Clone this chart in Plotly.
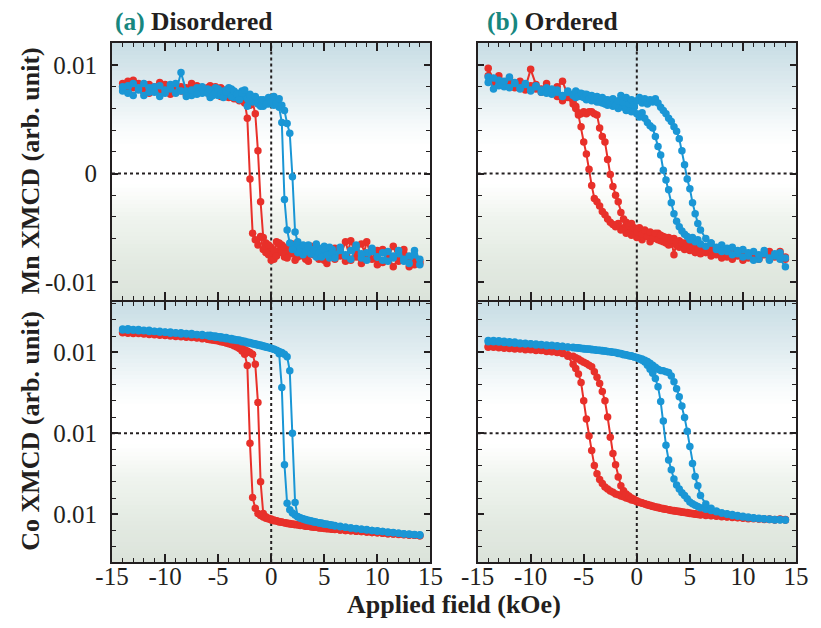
import plotly.graph_objects as go

# ---------------- data ----------------
field = [-14, -13.5, -13, -12.5, -12, -11.5, -11, -10.5, -10, -9.5, -9, -8.5, -8, -7.5, -7, -6.5,
         -6, -5.75, -5.5, -5.25, -5, -4.75, -4.5, -4.25, -4, -3.75, -3.5, -3.25, -3, -2.75, -2.5, -2.25,
         -2, -1.75, -1.5, -1.25, -1, -0.75, -0.5, -0.25, 0, 0.25, 0.5, 0.75, 1, 1.25, 1.5, 1.75,
         2, 2.25, 2.5, 2.75, 3, 3.25, 3.5, 3.75, 4, 4.25, 4.5, 4.75, 5, 5.25, 5.5, 5.75, 6,
         6.5, 7, 7.5, 8, 8.5, 9, 9.5, 10, 10.5, 11, 11.5, 12, 12.5, 13, 13.5, 14]

x_tick_vals = [-15, -10, -5, 0, 5, 10, 15]
x_tick_text = ["-15", "-10", "-5", "0", "5", "10", "15"]
mn_tick_vals = [-0.01, 0, 0.01]
mn_tick_text = ["-0.01", "0", "0.01"]
co_tick_vals = [0.008, 0.010, 0.012]
co_tick_text = ["0.01", "0.01", "0.01"]

# (a) Disordered, Mn
mn_dis_red_dn = [0.0083, 0.0078, 0.0086, 0.0080, 0.0075, 0.0082, 0.0077, 0.0084, 0.0079, 0.0073,
                 0.0081, 0.0076, 0.0079, 0.0083, 0.0074, 0.0078, 0.0076, 0.0081, 0.0074, 0.0077,
                 0.0073, 0.0079, 0.0075, 0.0071, 0.0076, 0.0072, 0.0074, 0.0069, 0.0072, 0.0068,
                 0.0066, 0.0051, -0.0005, -0.0055, -0.0061, -0.0066, -0.0058, -0.0070, -0.0064, -0.0075,
                 -0.0068, -0.0079, -0.0063, -0.0072, -0.0066, -0.0077, -0.0070, -0.0074, -0.0065, -0.0080,
                 -0.0071, -0.0067, -0.0076, -0.0070, -0.0081, -0.0073, -0.0068, -0.0075, -0.0079, -0.0070,
                 -0.0074, -0.0083, -0.0072, -0.0077, -0.0069, -0.0076, -0.0063, -0.0080, -0.0071, -0.0065,
                 -0.0078, -0.0072, -0.0084, -0.0070, -0.0077, -0.0067, -0.0081, -0.0074, -0.0086, -0.0079,
                 -0.0083]
mn_dis_red_up = [0.0080, 0.0085, 0.0079, 0.0083, 0.0078, 0.0074, 0.0080, 0.0076, 0.0082, 0.0078,
                 0.0075, 0.0080, 0.0073, 0.0078, 0.0081, 0.0075, 0.0079, 0.0072, 0.0076, 0.0080,
                 0.0074, 0.0071, 0.0077, 0.0073, 0.0070, 0.0075, 0.0069, 0.0072, 0.0067, 0.0070,
                 0.0065, 0.0068, 0.0063, 0.0066, 0.0055, 0.0021, -0.0026, -0.0059, -0.0073, -0.0066,
                 -0.0080, -0.0071, -0.0076, -0.0064, -0.0073, -0.0068, -0.0078, -0.0069, -0.0074, -0.0066,
                 -0.0077, -0.0072, -0.0068, -0.0079, -0.0074, -0.0067, -0.0075, -0.0071, -0.0078, -0.0073,
                 -0.0080, -0.0069, -0.0076, -0.0072, -0.0079, -0.0072, -0.0081, -0.0062, -0.0077, -0.0083,
                 -0.0063, -0.0079, -0.0071, -0.0082, -0.0075, -0.0086, -0.0078, -0.0070, -0.0080, -0.0084,
                 -0.0081]
mn_dis_blue_dn = [0.0076, 0.0081, 0.0072, 0.0079, 0.0083, 0.0075, 0.0080, 0.0071, 0.0077, 0.0082,
                  0.0074, 0.0093, 0.0076, 0.0072, 0.0079, 0.0074, 0.0078, 0.0070, 0.0075, 0.0079,
                  0.0072, 0.0076, 0.0071, 0.0077, 0.0073, 0.0078, 0.0070, 0.0074, 0.0069, 0.0076,
                  0.0071, 0.0062, 0.0073, 0.0066, 0.0070, 0.0064, 0.0068, 0.0062, 0.0067, 0.0064,
                  0.0069, 0.0063, 0.0066, 0.0061, 0.0047, -0.0024, -0.0052, -0.0064, -0.0070, -0.0066,
                  -0.0073, -0.0068, -0.0075, -0.0070, -0.0066, -0.0074, -0.0071, -0.0077, -0.0069, -0.0074,
                  -0.0067, -0.0072, -0.0078, -0.0070, -0.0075, -0.0068, -0.0076, -0.0071, -0.0066, -0.0078,
                  -0.0073, -0.0069, -0.0077, -0.0080, -0.0072, -0.0078, -0.0074, -0.0081, -0.0076, -0.0071,
                  -0.0079]
mn_dis_blue_up = [0.0080, 0.0074, 0.0083, 0.0077, 0.0072, 0.0079, 0.0075, 0.0081, 0.0074, 0.0078,
                  0.0083, 0.0076, 0.0071, 0.0077, 0.0073, 0.0080, 0.0074, 0.0077, 0.0072, 0.0075,
                  0.0078, 0.0073, 0.0070, 0.0075, 0.0079, 0.0071, 0.0076, 0.0073, 0.0068, 0.0074,
                  0.0077, 0.0069, 0.0072, 0.0067, 0.0071, 0.0065, 0.0062, 0.0068, 0.0064, 0.0070,
                  0.0066, 0.0071, 0.0065, 0.0069, 0.0063, 0.0058, 0.0046, 0.0037, -0.0003, -0.0054,
                  -0.0063, -0.0069, -0.0066, -0.0072, -0.0068, -0.0074, -0.0070, -0.0065, -0.0073, -0.0077,
                  -0.0070, -0.0075, -0.0068, -0.0073, -0.0078, -0.0071, -0.0075, -0.0079, -0.0068, -0.0074,
                  -0.0080, -0.0072, -0.0077, -0.0073, -0.0081, -0.0076, -0.0071, -0.0079, -0.0083, -0.0075,
                  -0.0084]

# (b) Ordered, Mn
mn_ord_red_dn = [0.0097, 0.0086, 0.0090, 0.0083, 0.0088, 0.0081, 0.0085, 0.0079, 0.0096, 0.0082,
                 0.0078, 0.0083, 0.0076, 0.0080, 0.0085, 0.0072, 0.0067, 0.0062, 0.0054, 0.0043,
                 0.0029, 0.0018, 0.0004, -0.0011, -0.0023, -0.0026, -0.0030, -0.0035, -0.0038, -0.0042,
                 -0.0045, -0.0047, -0.0049, -0.0046, -0.0052, -0.0050, -0.0055, -0.0051, -0.0057, -0.0053,
                 -0.0059, -0.0055, -0.0061, -0.0056, -0.0058, -0.0063, -0.0057, -0.0060, -0.0055, -0.0062,
                 -0.0058, -0.0064, -0.0059, -0.0065, -0.0060, -0.0066, -0.0062, -0.0067, -0.0064, -0.0069,
                 -0.0065, -0.0070, -0.0067, -0.0072, -0.0068, -0.0073, -0.0070, -0.0075, -0.0071, -0.0077,
                 -0.0073, -0.0076, -0.0072, -0.0078, -0.0074, -0.0079, -0.0075, -0.0072, -0.0077, -0.0074,
                 -0.0079]
mn_ord_red_up = [0.0090, 0.0084, 0.0087, 0.0081, 0.0085, 0.0079, 0.0083, 0.0077, 0.0081, 0.0078,
                 0.0075, 0.0079, 0.0074, 0.0071, 0.0067, 0.0070, 0.0064, 0.0060, 0.0056, 0.0055,
                 0.0057, 0.0055, 0.0057, 0.0057, 0.0055, 0.0054, 0.0042, 0.0034, 0.0029, 0.0013,
                 -0.0001, -0.0012, -0.0020, -0.0026, -0.0036, -0.0042, -0.0045, -0.0048, -0.0046, -0.0050,
                 -0.0054, -0.0050, -0.0056, -0.0052, -0.0058, -0.0054, -0.0060, -0.0055, -0.0061, -0.0057,
                 -0.0063, -0.0059, -0.0066, -0.0061, -0.0075, -0.0063, -0.0068, -0.0064, -0.0070, -0.0066,
                 -0.0071, -0.0068, -0.0073, -0.0069, -0.0074, -0.0071, -0.0076, -0.0072, -0.0078, -0.0074,
                 -0.0079, -0.0075, -0.0080, -0.0076, -0.0073, -0.0078, -0.0074, -0.0079, -0.0076, -0.0072,
                 -0.0077]
mn_ord_blue_dn = [0.0089, 0.0078, 0.0086, 0.0080, 0.0089, 0.0084, 0.0079, 0.0083, 0.0077, 0.0081,
                  0.0075, 0.0079, 0.0073, 0.0077, 0.0072, 0.0076, 0.0073, 0.0070, 0.0074, 0.0071,
                  0.0073, 0.0068, 0.0072, 0.0067, 0.0070, 0.0066, 0.0069, 0.0065, 0.0068, 0.0063,
                  0.0067, 0.0062, 0.0066, 0.0060, 0.0065, 0.0061, 0.0058, 0.0063, 0.0057, 0.0061,
                  0.0055, 0.0052, 0.0056, 0.0051, 0.0047, 0.0044, 0.0042, 0.0034, 0.0025, 0.0017,
                  0.0003, -0.0006, -0.0015, -0.0027, -0.0037, -0.0044, -0.0049, -0.0053, -0.0056, -0.0058,
                  -0.0061, -0.0059, -0.0063, -0.0061, -0.0065, -0.0067, -0.0064, -0.0070, -0.0066, -0.0072,
                  -0.0068, -0.0074, -0.0070, -0.0076, -0.0072, -0.0079, -0.0074, -0.0080, -0.0076, -0.0073,
                  -0.0078]
mn_ord_blue_up = [0.0084, 0.0088, 0.0081, 0.0085, 0.0079, 0.0083, 0.0078, 0.0082, 0.0076, 0.0080,
                  0.0077, 0.0074, 0.0078, 0.0075, 0.0071, 0.0075, 0.0072, 0.0076, 0.0071, 0.0074,
                  0.0070, 0.0073, 0.0069, 0.0072, 0.0068, 0.0071, 0.0066, 0.0070, 0.0064, 0.0068,
                  0.0065, 0.0069, 0.0063, 0.0067, 0.0072, 0.0066, 0.0070, 0.0064, 0.0068, 0.0063,
                  0.0067, 0.0070, 0.0065, 0.0069, 0.0064, 0.0068, 0.0066, 0.0069, 0.0065, 0.0061,
                  0.0058, 0.0055, 0.0051, 0.0048, 0.0043, 0.0039, 0.0032, 0.0021, 0.0008, -0.0005,
                  -0.0014, -0.0027, -0.0037, -0.0046, -0.0052, -0.0060, -0.0064, -0.0068, -0.0072, -0.0069,
                  -0.0075, -0.0071, -0.0077, -0.0073, -0.0080, -0.0075, -0.0071, -0.0078, -0.0074, -0.0079,
                  -0.0086]

# (a) Disordered, Co
co_dis_red_dn = [0.01248, 0.01251, 0.01246, 0.01249, 0.01245, 0.01247, 0.01243, 0.01245, 0.01241, 0.01243,
                 0.01239, 0.01241, 0.01237, 0.01238, 0.01235, 0.01236, 0.01232, 0.01233, 0.01230, 0.01231,
                 0.01228, 0.01227, 0.01225, 0.01224, 0.01221, 0.01219, 0.01216, 0.01213, 0.01209, 0.01203,
                 0.01195, 0.01167, 0.00975, 0.00841, 0.00815, 0.00802, 0.00797, 0.00793, 0.00790, 0.00788,
                 0.00786, 0.00784, 0.00783, 0.00781, 0.00780, 0.00779, 0.00777, 0.00776, 0.00775, 0.00774,
                 0.00774, 0.00772, 0.00772, 0.00770, 0.00770, 0.00769, 0.00768, 0.00768, 0.00766, 0.00766,
                 0.00765, 0.00764, 0.00764, 0.00763, 0.00762, 0.00761, 0.00760, 0.00759, 0.00758, 0.00757,
                 0.00756, 0.00755, 0.00754, 0.00753, 0.00752, 0.00751, 0.00750, 0.00749, 0.00748, 0.00748,
                 0.00747]
co_dis_red_up = [0.01250, 0.01247, 0.01249, 0.01246, 0.01247, 0.01244, 0.01245, 0.01242, 0.01243, 0.01240,
                 0.01241, 0.01238, 0.01239, 0.01236, 0.01236, 0.01233, 0.01233, 0.01231, 0.01231, 0.01229,
                 0.01228, 0.01226, 0.01225, 0.01223, 0.01222, 0.01220, 0.01218, 0.01216, 0.01213, 0.01210,
                 0.01206, 0.01203, 0.01199, 0.01195, 0.01170, 0.01076, 0.00880, 0.00802, 0.00794, 0.00790,
                 0.00788, 0.00786, 0.00784, 0.00782, 0.00781, 0.00779, 0.00778, 0.00777, 0.00776, 0.00775,
                 0.00774, 0.00773, 0.00772, 0.00771, 0.00770, 0.00769, 0.00769, 0.00768, 0.00767, 0.00766,
                 0.00766, 0.00765, 0.00764, 0.00763, 0.00763, 0.00761, 0.00760, 0.00759, 0.00758, 0.00757,
                 0.00756, 0.00755, 0.00754, 0.00753, 0.00752, 0.00751, 0.00751, 0.00750, 0.00749, 0.00748,
                 0.00747]
co_dis_blue_dn = [0.01255, 0.01258, 0.01254, 0.01256, 0.01253, 0.01254, 0.01251, 0.01252, 0.01249, 0.01250,
                  0.01247, 0.01248, 0.01245, 0.01246, 0.01243, 0.01244, 0.01241, 0.01242, 0.01240, 0.01240,
                  0.01238, 0.01238, 0.01236, 0.01236, 0.01234, 0.01234, 0.01232, 0.01231, 0.01230, 0.01228,
                  0.01227, 0.01225, 0.01224, 0.01222, 0.01221, 0.01219, 0.01218, 0.01216, 0.01214, 0.01212,
                  0.01210, 0.01207, 0.01204, 0.01196, 0.01113, 0.00922, 0.00827, 0.00811, 0.00803, 0.00798,
                  0.00794, 0.00791, 0.00789, 0.00787, 0.00785, 0.00783, 0.00782, 0.00780, 0.00779, 0.00778,
                  0.00776, 0.00775, 0.00774, 0.00773, 0.00772, 0.00770, 0.00768, 0.00766, 0.00765, 0.00763,
                  0.00762, 0.00760, 0.00759, 0.00757, 0.00756, 0.00755, 0.00753, 0.00752, 0.00751, 0.00750,
                  0.00749]
co_dis_blue_up = [0.01257, 0.01254, 0.01256, 0.01253, 0.01254, 0.01251, 0.01252, 0.01249, 0.01250, 0.01247,
                  0.01248, 0.01245, 0.01246, 0.01243, 0.01244, 0.01241, 0.01241, 0.01239, 0.01239, 0.01237,
                  0.01237, 0.01235, 0.01235, 0.01233, 0.01233, 0.01231, 0.01230, 0.01229, 0.01228, 0.01226,
                  0.01225, 0.01223, 0.01222, 0.01220, 0.01219, 0.01217, 0.01216, 0.01214, 0.01212, 0.01211,
                  0.01209, 0.01207, 0.01205, 0.01202, 0.01199, 0.01195, 0.01189, 0.01154, 0.01000, 0.00829,
                  0.00794, 0.00790, 0.00788, 0.00786, 0.00784, 0.00783, 0.00781, 0.00780, 0.00778, 0.00777,
                  0.00776, 0.00775, 0.00774, 0.00773, 0.00771, 0.00769, 0.00768, 0.00766, 0.00764, 0.00763,
                  0.00761, 0.00760, 0.00758, 0.00757, 0.00755, 0.00754, 0.00753, 0.00751, 0.00750, 0.00749,
                  0.00748]

# (b) Ordered, Co
co_ord_red_dn = [0.01212, 0.01214, 0.01211, 0.01212, 0.01209, 0.01210, 0.01208, 0.01208, 0.01206, 0.01206,
                 0.01204, 0.01203, 0.01202, 0.01200, 0.01199, 0.01190, 0.01170, 0.01160, 0.01146, 0.01125,
                 0.01080, 0.01035, 0.00993, 0.00957, 0.00920, 0.00900, 0.00886, 0.00876, 0.00867, 0.00862,
                 0.00857, 0.00854, 0.00850, 0.00848, 0.00845, 0.00843, 0.00840, 0.00838, 0.00835, 0.00834,
                 0.00831, 0.00829, 0.00827, 0.00825, 0.00823, 0.00821, 0.00819, 0.00818, 0.00816, 0.00815,
                 0.00813, 0.00812, 0.00811, 0.00809, 0.00808, 0.00807, 0.00806, 0.00805, 0.00804, 0.00803,
                 0.00802, 0.00801, 0.00800, 0.00799, 0.00798, 0.00797, 0.00796, 0.00795, 0.00794, 0.00793,
                 0.00792, 0.00791, 0.00790, 0.00789, 0.00789, 0.00788, 0.00787, 0.00787, 0.00786, 0.00787,
                 0.00786]
co_ord_red_up = [0.01214, 0.01212, 0.01213, 0.01210, 0.01211, 0.01208, 0.01209, 0.01206, 0.01207, 0.01204,
                 0.01205, 0.01202, 0.01201, 0.01199, 0.01197, 0.01194, 0.01190, 0.01186, 0.01183, 0.01179,
                 0.01175, 0.01172, 0.01168, 0.01164, 0.01152, 0.01138, 0.01123, 0.01103, 0.01080, 0.01040,
                 0.00990, 0.00950, 0.00922, 0.00892, 0.00870, 0.00858, 0.00850, 0.00845, 0.00840, 0.00837,
                 0.00833, 0.00830, 0.00828, 0.00826, 0.00824, 0.00822, 0.00820, 0.00818, 0.00817, 0.00815,
                 0.00814, 0.00812, 0.00811, 0.00810, 0.00809, 0.00808, 0.00807, 0.00806, 0.00805, 0.00804,
                 0.00803, 0.00802, 0.00801, 0.00800, 0.00799, 0.00798, 0.00797, 0.00796, 0.00795, 0.00794,
                 0.00793, 0.00792, 0.00791, 0.00790, 0.00790, 0.00789, 0.00788, 0.00788, 0.00787, 0.00788,
                 0.00787]
co_ord_blue_dn = [0.01226, 0.01229, 0.01225, 0.01227, 0.01223, 0.01225, 0.01221, 0.01222, 0.01220, 0.01220,
                  0.01218, 0.01218, 0.01216, 0.01216, 0.01214, 0.01213, 0.01212, 0.01211, 0.01211, 0.01210,
                  0.01209, 0.01208, 0.01208, 0.01207, 0.01206, 0.01205, 0.01205, 0.01204, 0.01203, 0.01202,
                  0.01201, 0.01200, 0.01199, 0.01197, 0.01196, 0.01194, 0.01193, 0.01191, 0.01190, 0.01188,
                  0.01186, 0.01183, 0.01180, 0.01176, 0.01168, 0.01158, 0.01148, 0.01135, 0.01115, 0.01078,
                  0.01030, 0.00970, 0.00934, 0.00910, 0.00887, 0.00872, 0.00862, 0.00853, 0.00846, 0.00838,
                  0.00830, 0.00826, 0.00822, 0.00819, 0.00816, 0.00812, 0.00809, 0.00806, 0.00803, 0.00801,
                  0.00799, 0.00797, 0.00795, 0.00793, 0.00791, 0.00790, 0.00789, 0.00788, 0.00787, 0.00786,
                  0.00786]
co_ord_blue_up = [0.01229, 0.01226, 0.01228, 0.01224, 0.01226, 0.01222, 0.01223, 0.01220, 0.01221, 0.01218,
                  0.01219, 0.01216, 0.01217, 0.01214, 0.01215, 0.01212, 0.01211, 0.01211, 0.01210, 0.01209,
                  0.01208, 0.01208, 0.01207, 0.01206, 0.01206, 0.01205, 0.01204, 0.01203, 0.01203, 0.01202,
                  0.01201, 0.01200, 0.01199, 0.01198, 0.01197, 0.01195, 0.01194, 0.01192, 0.01191, 0.01189,
                  0.01187, 0.01185, 0.01183, 0.01180, 0.01177, 0.01173, 0.01168, 0.01163, 0.01158, 0.01155,
                  0.01154, 0.01152, 0.01150, 0.01141, 0.01127, 0.01110, 0.01090, 0.01067, 0.01039, 0.01005,
                  0.00967, 0.00925, 0.00893, 0.00870, 0.00846, 0.00825, 0.00815, 0.00808, 0.00803, 0.00800,
                  0.00797, 0.00795, 0.00793, 0.00791, 0.00790, 0.00789, 0.00788, 0.00787, 0.00786, 0.00787,
                  0.00786]

# ---------------- style ----------------
RED = "#e8302a"
BLUE = "#1a96d5"
INK = "#231f20"
TEAL = "#17877f"
FONT = "Liberation Serif"

panels = [
    ("x", "y", mn_dis_red_dn, mn_dis_red_up, mn_dis_blue_dn, mn_dis_blue_up, 0.0),
    ("x2", "y2", mn_ord_red_dn, mn_ord_red_up, mn_ord_blue_dn, mn_ord_blue_up, 0.0),
    ("x3", "y3", co_dis_red_dn, co_dis_red_up, co_dis_blue_dn, co_dis_blue_up, 0.010),
    ("x4", "y4", co_ord_red_dn, co_ord_red_up, co_ord_blue_dn, co_ord_blue_up, 0.010),
]

fig = go.Figure()
for xa, ya, rdn, rup, bdn, bup, _ in panels:
    for dn, up, col in ((rdn, rup, RED), (bdn, bup, BLUE)):
        assert len(dn) == len(field) and len(up) == len(field)
        fig.add_trace(go.Scatter(
            x=field[::-1] + field, y=dn[::-1] + up,
            mode="lines+markers",
            line=dict(color=col, width=2),
            marker=dict(color=col, size=7.5),
            xaxis=xa, yaxis=ya, showlegend=False, hoverinfo="skip"))

# background gradient (strips) + dotted reference lines
stops = [(0.00, (219, 227, 218)), (0.15, (227, 234, 226)), (0.33, (240, 245, 239)),
         (0.45, (255, 255, 255)), (0.60, (255, 255, 255)), (0.68, (246, 250, 251)),
         (0.82, (224, 236, 240)), (1.00, (200, 221, 228))]


def grad(t):
    for (t0, c0), (t1, c1) in zip(stops[:-1], stops[1:]):
        if t0 <= t <= t1:
            f = (t - t0) / (t1 - t0)
            return "rgb(%d,%d,%d)" % tuple(round(a + (b - a) * f) for a, b in zip(c0, c1))
    return "rgb(%d,%d,%d)" % stops[-1][1]


shapes = []
N = 64
for xa, ya, *_rest, href in panels:
    for i in range(N):
        shapes.append(dict(type="rect", xref=xa + " domain", yref=ya + " domain",
                           x0=0, x1=1, y0=i / N, y1=min(1, (i + 1) / N + 0.006),
                           fillcolor=grad((i + 0.5) / N), line=dict(width=0), layer="below"))
    shapes.append(dict(type="line", xref=xa, yref=ya + " domain", x0=0, x1=0, y0=0, y1=1,
                       line=dict(color=INK, width=2, dash="dot"), layer="below"))
    shapes.append(dict(type="line", xref=xa + " domain", yref=ya, x0=0, x1=1, y0=href, y1=href,
                       line=dict(color=INK, width=2, dash="dot"), layer="below"))

common = dict(showline=True, linecolor=INK, linewidth=2, mirror="ticks", ticks="inside",
              tickcolor=INK, tickwidth=1.5, showgrid=False, zeroline=False,
              tickfont=dict(family=FONT, size=25, color=INK))
xcommon = dict(common, range=[-15, 15], tickmode="array", tickvals=x_tick_vals,
               ticktext=x_tick_text, ticklen=8, ticklabelstandoff=-9,
               minor=dict(ticks="inside", dtick=1, tick0=0, ticklen=4, tickcolor=INK,
                          tickwidth=1.2, showgrid=False))
mn_y = dict(common, range=[-0.0117, 0.01203], tickmode="array", tickvals=mn_tick_vals,
            ticktext=mn_tick_text, ticklen=6, ticklabelstandoff=8,
            minor=dict(ticks="inside", dtick=0.002, tick0=0, ticklen=4, tickcolor=INK,
                       tickwidth=1.2, showgrid=False))
co_y = dict(common, range=[0.00682, 0.01324], tickmode="array", tickvals=co_tick_vals,
            ticktext=co_tick_text, ticklen=6, ticklabelstandoff=8,
            minor=dict(ticks="inside", dtick=0.0004, tick0=0, ticklen=4, tickcolor=INK,
                       tickwidth=1.2, showgrid=False))

LEFT = [0, 0.4655]
RIGHT = [0.5345, 1]
TOP = [0.504, 1]
BOT = [0, 0.501]

# the page body adds an 8px margin; size the figure so the page needs no scrollbars
fig.update_layout(
    width=813, height=612, autosize=False,
    margin=dict(l=104, r=13, t=35, b=58),
    paper_bgcolor="white", plot_bgcolor="white",
    xaxis=dict(xcommon, domain=LEFT, anchor="y", showticklabels=False),
    xaxis2=dict(xcommon, domain=RIGHT, anchor="y2", showticklabels=False),
    xaxis3=dict(xcommon, domain=LEFT, anchor="y3"),
    xaxis4=dict(xcommon, domain=RIGHT, anchor="y4"),
    yaxis=dict(mn_y, domain=TOP, anchor="x"),
    yaxis2=dict(mn_y, domain=TOP, anchor="x2", showticklabels=False),
    yaxis3=dict(co_y, domain=BOT, anchor="x3"),
    yaxis4=dict(co_y, domain=BOT, anchor="x4", showticklabels=False),
    shapes=shapes,
    annotations=[
        dict(text="<b><span style='color:%s'>(a)</span> Disordered</b>" % TEAL,
             xref="paper", yref="paper", x=0.002, y=1.042, xanchor="left", yanchor="middle",
             showarrow=False, font=dict(family=FONT, size=25.5, color=INK)),
        dict(text="<b><span style='color:%s'>(b)</span> Ordered</b>" % TEAL,
             xref="paper", yref="paper", x=0.545, y=1.042, xanchor="left", yanchor="middle",
             showarrow=False, font=dict(family=FONT, size=25.5, color=INK)),
        dict(text="<b>Mn XMCD (arb. unit)</b>", textangle=-90,
             xref="paper", yref="paper", x=-0.119, y=0.754, xanchor="center", yanchor="middle",
             showarrow=False, font=dict(family=FONT, size=26, color=INK)),
        dict(text="<b>Co XMCD (arb. unit)</b>", textangle=-90,
             xref="paper", yref="paper", x=-0.119, y=0.252, xanchor="center", yanchor="middle",
             showarrow=False, font=dict(family=FONT, size=26, color=INK)),
        dict(text="<b>Applied field (kOe)</b>",
             xref="paper", yref="paper", x=0.5, y=-0.081, xanchor="center", yanchor="middle",
             showarrow=False, font=dict(family=FONT, size=26, color=INK)),
    ],
)

fig.write_html("out.html")
